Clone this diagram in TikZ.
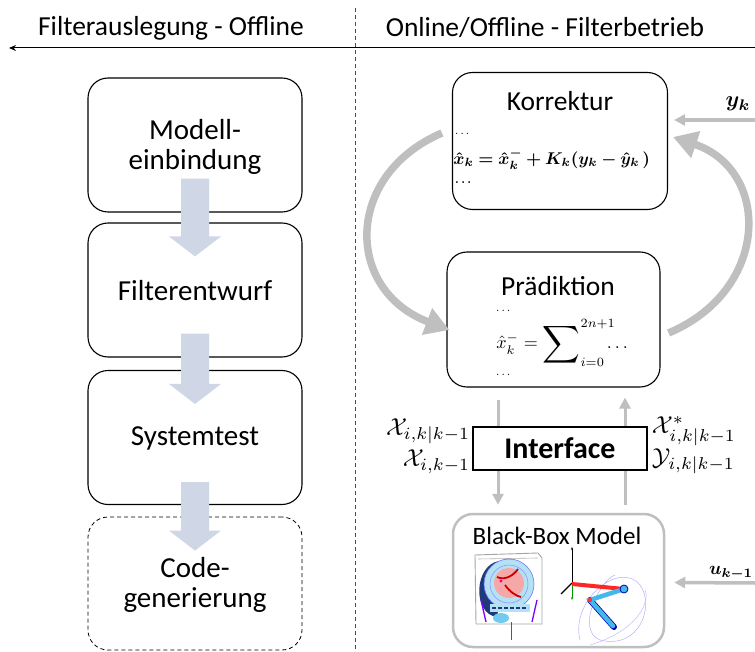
\documentclass[tikz,border=0pt]{standalone}
\usepackage{amsmath,bm}
\usepackage[no-math]{fontspec}
\setmainfont{Carlito}
\usetikzlibrary{arrows.meta,calc}

\definecolor{arcgray}{HTML}{BFBFBF}
\definecolor{flowblue}{HTML}{CFD7E6}
\definecolor{navyblue}{HTML}{1F3A78}
\definecolor{ringcyan}{HTML}{B4E2F4}
\definecolor{linkcyan}{HTML}{44B8EA}
\definecolor{innerred}{HTML}{F6A8A8}

% block arrow between two stacked boxes
\newcommand\flowarrow[3]{%
  \fill[flowblue]
    ($(#1.south)+(-14,-#3)$) -- ($(#2.north)+(-14,14)$) -- ($(#2.north)+(-26,14)$)
    -- ($(#2.north)+(0,34)$) -- ($(#2.north)+(26,14)$) -- ($(#2.north)+(14,14)$)
    -- ($(#1.south)+(14,-#3)$) -- cycle;}
% enlarged summation sign
\newcommand\bigsumop{\mathop{\vcenter{\hbox{\scalebox{1.45}{$\displaystyle\sum$}}}}}

\begin{document}
\begin{tikzpicture}[x=1pt,y=-1pt,
  stagebox/.style={draw, rounded corners=20pt, line width=1.1pt, fill=white,
    minimum width=214pt, minimum height=134pt, inner sep=0pt},
  bigtext/.style={font=\fontsize{29}{30}\selectfont, align=center, inner sep=0pt},
  titletext/.style={font=\fontsize{27.5}{30}\selectfont, inner sep=0pt},
  headtext/.style={font=\fontsize{27.5}{30}\selectfont, inner sep=0pt},
  mathlabel/.style={scale=2.45, transform shape, inner sep=0pt},
  eqtext/.style={scale=1.7, transform shape, inner sep=0pt},
  inputlabel/.style={transform shape, inner sep=0pt},
  dots/.style={scale=1.2, transform shape, inner sep=0pt},
  bigarc/.style={draw=arcgray, line width=7.5pt, -{Triangle[length=24pt,width=27pt]}},
  thinarrow/.style={draw=arcgray, line width=3pt, -{Triangle[length=11pt,width=11pt]}},
]
\useasboundingbox (0,0) rectangle (755,652);

% ---- header ----
\node[headtext] (hl) at (171,28) {Filterauslegung - Offline};
\node[headtext] (hr) at (545,28) {Online/Offline - Filterbetrieb};
\coordinate (hR) at (755,48);
\coordinate (hL) at (9,48);
\draw[line width=1pt, -{Stealth[length=7pt,width=6pt]}] (hR) -- (hL);
\coordinate (dT) at (355,8);
\coordinate (dB) at (355,652);
\draw[line width=0.8pt, dash pattern=on 4pt off 3pt, black!70] (dT) -- (dB);

% ---- left column: design steps ----
\node[stagebox] (m) at (195,145) {};
\node[stagebox] (f) at (195,290) {};
\node[stagebox] (s) at (195,437.5) {};
\node[stagebox, dashed, dash pattern=on 4pt off 3pt, line width=0.8pt, minimum height=133pt] (c) at (195,583.5) {};

\flowarrow{m}{f}{34}
\flowarrow{f}{s}{24}
\flowarrow{s}{c}{23}

\node[bigtext] (mt) at (195,147) {Modell-\\einbindung};
\node[bigtext] (ft) at (195,291) {Filterentwurf};
\node[bigtext] (st) at (195,438) {Systemtest};
\node[bigtext] (ct) at (195,585) {Code-\\generierung};

% ---- right column: filter loop ----
\node[stagebox, minimum width=215pt, minimum height=137pt] (k) at (560,141) {};
\node[stagebox, minimum width=213pt, minimum height=135pt] (p) at (553.5,319.5) {};

\node[titletext] (kt) at (560,101) {Korrektur};
\node[dots, anchor=west] (kd1) at (455,134) {$\ldots$};
\node[eqtext, anchor=west] (ke) at (453,159)
  {$\bm{\hat{x}_k = \hat{x}_k^{-} + K_k(y_k - \hat{y}_k\,)}$};
\node[dots, anchor=west] (kd2) at (455,183) {$\bm{\ldots}$};

\node[titletext] (pt) at (558,286) {Prädiktion};
\node[dots, anchor=west] (pd1) at (496,311) {$\ldots$};
\node[eqtext, scale=1.06, anchor=west] (pe) at (496,343)
  {$\hat{x}_k^{-} = \bigsumop\nolimits^{2n+1}_{i=0}\mkern-12mu\ldots$};
\node[dots, anchor=west] (pd2) at (496,375) {$\ldots$};

\draw[bigarc] ($(k.west)+(-10,-8)$) .. controls +(-98,42) and +(-105,-40) .. ($(p.west)+(3,10.5)$);
\draw[bigarc] ($(p.east)+(8,13.5)$) .. controls +(102,-43) and +(98,33) .. ($(k.east)+(5,-4)$);

% ---- interface and model ----
\node[draw, rounded corners=20pt, line width=2.5pt, draw=arcgray, fill=white,
  minimum width=211pt, minimum height=133pt, inner sep=0pt] (bb) at (558.5,580.5) {};

\draw[thinarrow] ($(p.south)+(-55.5,12)$) -- ($(bb.north)+(-60.5,-8)$);
\draw[thinarrow] ($(bb.north)+(66.5,-8)$) -- ($(p.south)+(71.5,10)$);

\node[draw, line width=2.8pt, fill=white, minimum width=174pt, minimum height=43pt,
  font=\bfseries\fontsize{30}{32}\selectfont, inner sep=0pt] (i) at (560,448.5) {Interface};

\node[mathlabel, anchor=east] (xl1) at ($(i.west)+(-1,-17)$) {$\mathcal{X}_{i,k|k-1}$};
\node[mathlabel, anchor=east] (xl2) at ($(i.west)+(-1,13)$) {$\mathcal{X}_{i,k-1}$};
\node[mathlabel, anchor=west] (xr1) at ($(i.east)+(3,-17)$) {$\mathcal{X}^{*}_{i,k|k-1}$};
\node[mathlabel, anchor=west] (xr2) at ($(i.east)+(3,13)$) {$\mathcal{Y}_{i,k|k-1}$};

\node[titletext, font=\fontsize{25}{28}\selectfont] (bt) at (557,536) {Black-Box Model};

% measurement inputs
\node[inputlabel, scale=2.2] (yk) at (738,104) {$\bm{y_k}$};
\coordinate (ykS) at (755,120);
\draw[thinarrow, line width=3.5pt] (ykS) -- ($(k.east)+(6,-21)$);
\node[inputlabel, scale=1.85] (uk) at (731,573) {$\bm{u_{k-1}}$};
\coordinate (ukS) at (755,583);
\draw[thinarrow, line width=3.5pt] (ukS) -- ($(bb.east)+(9,2)$);

% ---- sketch of the test rig ----
\begin{scope}
  \fill[white] (474,553) rectangle (543,625);
  \draw[black!35, line width=0.9pt] (475,555) -- (538,553) -- (542,558) -- (542,624) -- (476,624) -- cycle;
  \draw[black!30, line width=0.6pt] (478,559) -- (538,558);
  \fill[navyblue] (499,561) .. controls (474,565) and (472,614) .. (497,617) -- (500,600) -- (499,570) -- cycle;
  \fill[ringcyan] (509,584) circle (25);
  \draw[blue!55, line width=0.6pt] (509,584) circle (25);
  \draw[blue!45, line width=0.5pt] (509,584) circle (19);
  \fill[innerred] (509,583) circle (15);
  \draw[red!80!black, line width=1.8pt] (497,577) .. controls (505,581) and (514,575) .. (518,569);
  \draw[red!80!black, line width=1.8pt] (505,585) .. controls (510,592) and (516,596) .. (521,597);
  \fill[magenta] (501,581) circle (1.6);
  \fill[ringcyan] (490,604) rectangle (530,612);
  \draw[navyblue, line width=1.5pt, dash pattern=on 4pt off 2pt] (492,608) -- (528,608);
  \fill[linkcyan!75] (501,618) ellipse (8 and 5);
  \draw[blue!50!magenta, line width=1.3pt] (481,600) -- (486,622);
  \draw[blue!50!magenta, line width=1.3pt] (537,600) -- (532,622);
  \draw[green!60!black, line width=0.7pt] (511,622) -- (511,640);
  % robot arm
  \draw[blue!30, line width=0.5pt] (580,640) .. controls (570,600) and (620,560) .. (640,585)
     .. controls (655,605) and (640,650) .. (600,640) .. controls (575,630) and (600,580) .. (615,575);
  \draw[blue!25, line width=0.5pt] (590,645) .. controls (640,630) and (650,600) .. (645,590);
  \draw[black, line width=0.8pt, -{Stealth[length=3pt]}] (572,583) -- (572,547);
  \draw[black, line width=1.2pt] (572,583) -- (561,594);
  \draw[green!60!black, line width=1pt, -{Stealth[length=3pt]}] (572,583) -- (572,600);
  \draw[red!85, line width=4pt] (572,584) -- (624,589);
  \draw[blue!70!black, line width=6pt, line cap=round] (590,600) -- (614,627);
  \draw[linkcyan, line width=4.5pt, line cap=round] (624,589) -- (590,600) -- (613,626);
  \filldraw[fill=linkcyan, draw=blue!70!black, line width=0.8pt] (624,589) circle (4);
  \fill[red!80] (590,600) circle (2.2);
\end{scope}
\end{tikzpicture}
\end{document}
